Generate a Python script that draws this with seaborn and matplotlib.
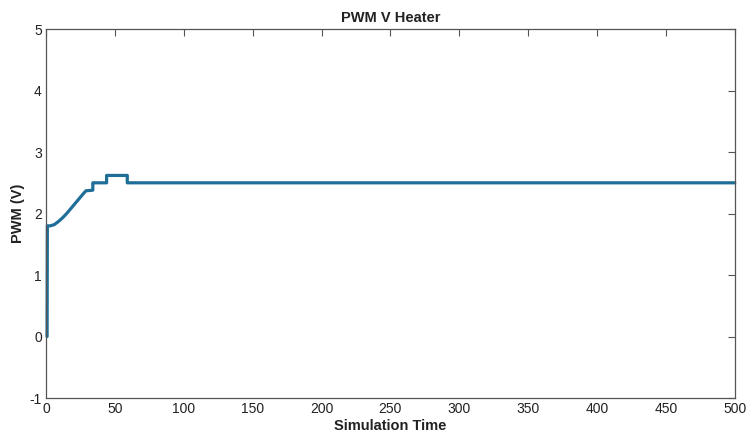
import matplotlib
matplotlib.use("Agg")
import matplotlib.pyplot as plt
import seaborn as sns
import pandas as pd

# Data
time = [0.8, 1.0, 3, 6, 9, 12, 15, 18, 21, 24, 27, 29, 34, 34, 44, 44, 59, 59, 500]
pwm = [0, 1.8, 1.8, 1.82, 1.87, 1.93, 2.0, 2.08, 2.16, 2.24, 2.32, 2.37, 2.38, 2.5, 2.5, 2.62, 2.62, 2.5, 2.5]
x_ticks = [0, 50, 100, 150, 200, 250, 300, 350, 400, 450, 500]
y_ticks = [-1, 0, 1, 2, 3, 4, 5]

sns.set_theme(style="white")
plt.rcParams['font.family'] = ['Liberation Sans Narrow', 'Liberation Sans', 'DejaVu Sans']
plt.rcParams['axes.unicode_minus'] = False

df = pd.DataFrame({"Simulation Time": time, "PWM (V)": pwm})

fig = plt.figure(figsize=(7.49, 4.41), dpi=100)
ax = fig.add_axes([0.0614, 0.0975, 0.9196, 0.8365])
sns.lineplot(data=df, x="Simulation Time", y="PWM (V)", ax=ax,
             color="#1f6e98", linewidth=2.3, sort=False, estimator=None)
for ln in ax.get_lines():
    ln.set_clip_on(False)

ax.set_xlim(0, 500)
ax.set_ylim(-1, 5)
ax.set_xticks(x_ticks)
ax.set_yticks(y_ticks)
ax.tick_params(direction="in", top=True, right=True, length=5, width=0.8,
               colors="#555555", labelsize=10, pad=3)
for t in ax.get_xticklabels() + ax.get_yticklabels():
    t.set_color("#222222")
for s in ax.spines.values():
    s.set_color("#555555")
    s.set_linewidth(0.9)
ax.set_xlabel("Simulation Time", fontsize=10.5, fontweight="bold", color="#222222", labelpad=2)
ax.set_ylabel("PWM (V)", fontsize=10.5, fontweight="bold", color="#222222", labelpad=3)
ax.set_title("PWM V Heater", fontsize=10.5, fontweight="bold", color="#222222", pad=5)

fig.savefig("out.png", dpi=100)
